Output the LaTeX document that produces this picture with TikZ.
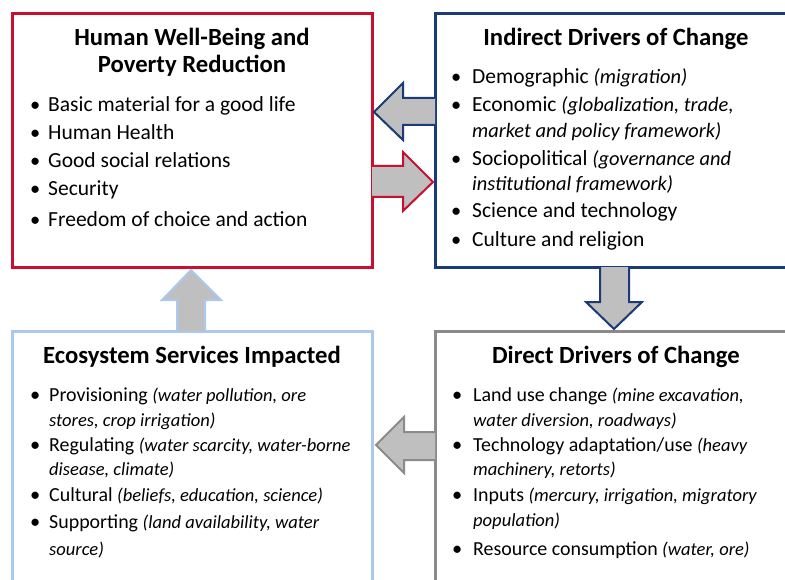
\documentclass[tikz,border=0pt]{standalone}
\usepackage{fontspec}
\setmainfont{Carlito}
\definecolor{hwred}{HTML}{C8102E}
\definecolor{navy}{HTML}{1B3A78}
\definecolor{lblue}{HTML}{A9C9F0}
\definecolor{dgray}{HTML}{8C8B87}
\definecolor{afill}{HTML}{BFBFBF}
\newcommand\iA[1]{{\fontsize{20.5}{25}\selectfont\itshape #1}}
\newcommand\iB[1]{{\fontsize{18.6}{25}\selectfont\itshape #1}}
\tikzset{
  panel/.style={draw, line width=3bp, rectangle, anchor=north west, inner sep=0, outer sep=0},
  ttl/.style={anchor=base, inner sep=0, font=\bfseries\fontsize{24.8}{28}\selectfont},
  txt/.style={anchor=base west, inner sep=0, font=\fontsize{21.6}{25}\selectfont},
  txtb/.style={anchor=base west, inner sep=0, font=\fontsize{20}{25}\selectfont},
  bul/.style={anchor=base west, inner sep=0, font=\fontsize{20.5}{25}\selectfont},
  blockarrow/.style={line width=2bp, fill=afill, line join=miter},
}
\begin{document}
\begin{tikzpicture}[x=1bp,y=-1bp]
\useasboundingbox (0,0) rectangle (785,580);
\clip (0,0) rectangle (785,580);
% panels
\node[panel, draw=hwred, minimum width=360bp, minimum height=253bp] (hwb) at (12,14) {};
\node[panel, draw=navy, minimum width=380bp, minimum height=253bp] (ind) at (435,14) {};
\node[panel, draw=lblue, minimum width=360bp, minimum height=280bp] (eco) at (12,331) {};
\node[panel, draw=dgray, minimum width=380bp, minimum height=280bp] (dir) at (435,331) {};

% block arrows
\draw[blockarrow, draw=navy] (435,98) -- (403,98) -- (403,83) -- (374,112) -- (403,140) -- (403,125) -- (435,125);
\draw[blockarrow, draw=hwred] (372,166) -- (403,166) -- (403,152) -- (433,182) -- (403,211) -- (403,197) -- (372,197);
\draw[blockarrow, draw=lblue] (177,331) -- (177,300) -- (162,300) -- (191,270) -- (221,300) -- (205,300) -- (205,331);
\draw[blockarrow, draw=navy] (600,267) -- (600,302) -- (586,302) -- (614,329) -- (642,302) -- (629,302) -- (629,267);
\draw[blockarrow, draw=dgray] (435,432) -- (404,432) -- (404,417) -- (376,445) -- (404,473) -- (404,460) -- (435,460);

% Human well-being
\node[ttl] (t1a) at (192,46) {Human Well-Being and};
\node[ttl] (t1b) at (192,73) {Poverty Reduction};
\foreach \y/\t [count=\i] in {112/Basic material for a good life,140/Human Health,168/Good social relations,196/Security,227/Freedom of choice and action}{
  \node[bul] (hb\i) at (30,\y) {\textbullet};
  \node[txt] (h\i) at (48,\y) {\t};
}

% Indirect drivers
\node[ttl] (t2) at (616,46) {Indirect Drivers of Change};
\node[bul] (ib1) at (451,84) {\textbullet};
\node[txt] (i1) at (472,84) {Demographic \iA{(migration)}};
\node[bul] (ib2) at (451,112) {\textbullet};
\node[txt] (i2) at (472,112) {Economic \iA{(globalization, trade,}};
\node[txt] (i2b) at (472,138) {\iA{market and policy framework)}};
\node[bul] (ib3) at (451,166) {\textbullet};
\node[txt] (i3) at (472,166) {Sociopolitical \iA{(governance and}};
\node[txt] (i3b) at (472,191) {\iA{institutional framework)}};
\node[bul] (ib4) at (451,218) {\textbullet};
\node[txt] (i4) at (472,218) {Science and technology};
\node[bul] (ib5) at (451,246) {\textbullet};
\node[txt] (i5) at (472,246) {Culture and religion};

% Ecosystem services
\node[ttl] (t3) at (192,363) {Ecosystem Services Impacted};
\node[bul] (eb1) at (30,401) {\textbullet};
\node[txtb] (e1) at (49,401) {Provisioning \iB{(water pollution, ore}};
\node[txtb] (e1b) at (49,426) {\iB{stores, crop irrigation)}};
\node[bul] (eb2) at (30,451) {\textbullet};
\node[txtb] (e2) at (49,451) {Regulating \iB{(water scarcity, water-borne}};
\node[txtb] (e2b) at (49,475) {\iB{disease, climate)}};
\node[bul] (eb3) at (30,501) {\textbullet};
\node[txtb] (e3) at (49,501) {Cultural \iB{(beliefs, education, science)}};
\node[bul] (eb4) at (30,528) {\textbullet};
\node[txtb] (e4) at (49,528) {Supporting \iB{(land availability, water}};
\node[txtb] (e4b) at (49,555) {\iB{source)}};

% Direct drivers
\node[ttl] (t4) at (616,363) {Direct Drivers of Change};
\node[bul] (db1) at (452,401) {\textbullet};
\node[txtb] (d1) at (473,401) {Land use change \iB{(mine excavation,}};
\node[txtb] (d1b) at (473,426) {\iB{water diversion, roadways)}};
\node[bul] (db2) at (452,451) {\textbullet};
\node[txtb] (d2) at (473,451) {Technology adaptation/use \iB{(heavy}};
\node[txtb] (d2b) at (473,475) {\iB{machinery, retorts)}};
\node[bul] (db3) at (452,501) {\textbullet};
\node[txtb] (d3) at (473,501) {Inputs \iB{(mercury, irrigation, migratory}};
\node[txtb] (d3b) at (473,526) {\iB{population)}};
\node[bul] (db4) at (452,555) {\textbullet};
\node[txtb] (d4) at (473,555) {Resource consumption \iB{(water, ore)}};
\end{tikzpicture}
\end{document}
